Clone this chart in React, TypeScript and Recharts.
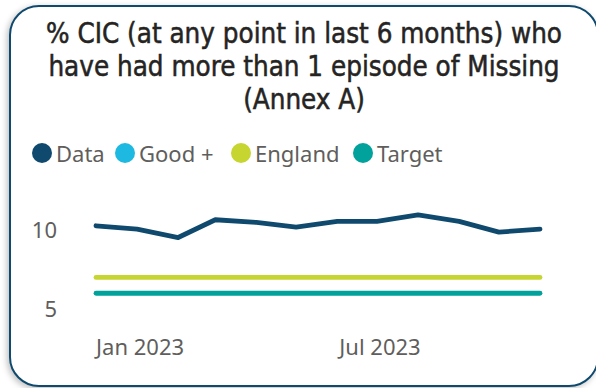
import React from 'react';
import { LineChart, Line, XAxis, YAxis } from 'recharts';

const months = ['2022-12-01', '2023-01-01', '2023-02-01', '2023-03-01', '2023-04-01', '2023-05-01', '2023-06-01', '2023-07-01', '2023-08-01', '2023-09-01', '2023-10-01', '2023-11-01'];
const dataValues = [10.25, 10.04, 9.51, 10.63, 10.46, 10.17, 10.53, 10.53, 10.93, 10.53, 9.85, 10.04];
const goodValues = [null, null, null, null, null, null, null, null, null, null, null, null];
const englandValues = [7.0, 7.0, 7.0, 7.0, 7.0, 7.0, 7.0, 7.0, 7.0, 7.0, 7.0, 7.0];
const targetValues = [6.0, 6.0, 6.0, 6.0, 6.0, 6.0, 6.0, 6.0, 6.0, 6.0, 6.0, 6.0];
const xTickDates = ['2023-01-01', '2023-07-01'];
const xTickLabels = ['Jan 2023', 'Jul 2023'];
const yTicks = [5, 10];

const series = [
  { key: 'data', name: 'Data', color: '#0F4A6E' },
  { key: 'good', name: 'Good +', color: '#1DB9E1' },
  { key: 'england', name: 'England', color: '#C6D530' },
  { key: 'target', name: 'Target', color: '#00A29B' },
];

// legend item x positions (circle centre)
const legendX = [42, 125, 241, 363];

const toTime = (d: string) => Date.parse(d + 'T00:00:00Z');

const rows = months.map((m, i) => ({
  t: toTime(m),
  data: dataValues[i],
  good: goodValues[i],
  england: englandValues[i],
  target: targetValues[i],
}));

const xTicks = xTickDates.map(toTime);

const axisFont = { fontFamily: '"Noto Sans", sans-serif', fontSize: 22, fill: '#605E5C' };

export default function App() {
  return (
    <div style={{ position: 'fixed', left: 0, top: 0, width: 596, height: 388, overflow: 'hidden', background: '#fff' }}>
      <div
        style={{
          position: 'absolute', left: 9, top: 5, width: 586, height: 378,
          border: '2px solid #0F4A6E', borderRadius: 30, boxShadow: '-2px 2px 6px rgba(0,0,0,0.25)', background: '#fff',
        }}
      />
      <div
        style={{
          position: 'absolute', left: 9, top: 17, width: 590, textAlign: 'center',
          fontFamily: '"DejaVu Sans Condensed", "DejaVu Sans", sans-serif', fontSize: 27.5, lineHeight: '33px', color: '#252423',
          WebkitTextStroke: '0.5px #252423',
        }}
      >
        % CIC (at any point in last 6 months) who<br />have had more than 1 episode of Missing<br />(Annex A)
      </div>
      {series.map((s, i) => (
        <div
          key={s.key}
          style={{
            position: 'absolute', left: legendX[i] - 10, top: 141, height: 24, display: 'flex', alignItems: 'center',
            fontFamily: '"Noto Sans", sans-serif', fontSize: 22, color: '#605E5C', whiteSpace: 'nowrap',
          }}
        >
          <span style={{ width: 20, height: 20, borderRadius: 10, background: s.color, marginRight: 4, display: 'inline-block' }} />
          <span style={{ lineHeight: '24px' }}>{s.name}</span>
        </div>
      ))}
      <div style={{ position: 'absolute', left: 0, top: 0 }}>
        <LineChart width={596} height={388} data={rows} margin={{ top: 198, right: 56, bottom: 0, left: 0 }}>
          <XAxis
            dataKey="t" type="number" scale="time" domain={['dataMin', 'dataMax']} ticks={xTicks}
            tickFormatter={(v) => xTickLabels[xTicks.indexOf(v)]} axisLine={false} tickLine={false}
            tickSize={0} tickMargin={14} height={63} tick={{ ...axisFont, dx: 3 }}
          />
          <YAxis
            domain={[4, 12]} ticks={yTicks} axisLine={false} tickLine={false}
            tickSize={0} tickMargin={39} width={96} tick={axisFont}
          />
          {series.map((s) => (
            <Line
              key={s.key} dataKey={s.key} name={s.name} stroke={s.color} strokeWidth={4.8}
              strokeLinecap="round" strokeLinejoin="round" dot={false} activeDot={false}
              isAnimationActive={false}
            />
          ))}
        </LineChart>
      </div>
    </div>
  );
}
